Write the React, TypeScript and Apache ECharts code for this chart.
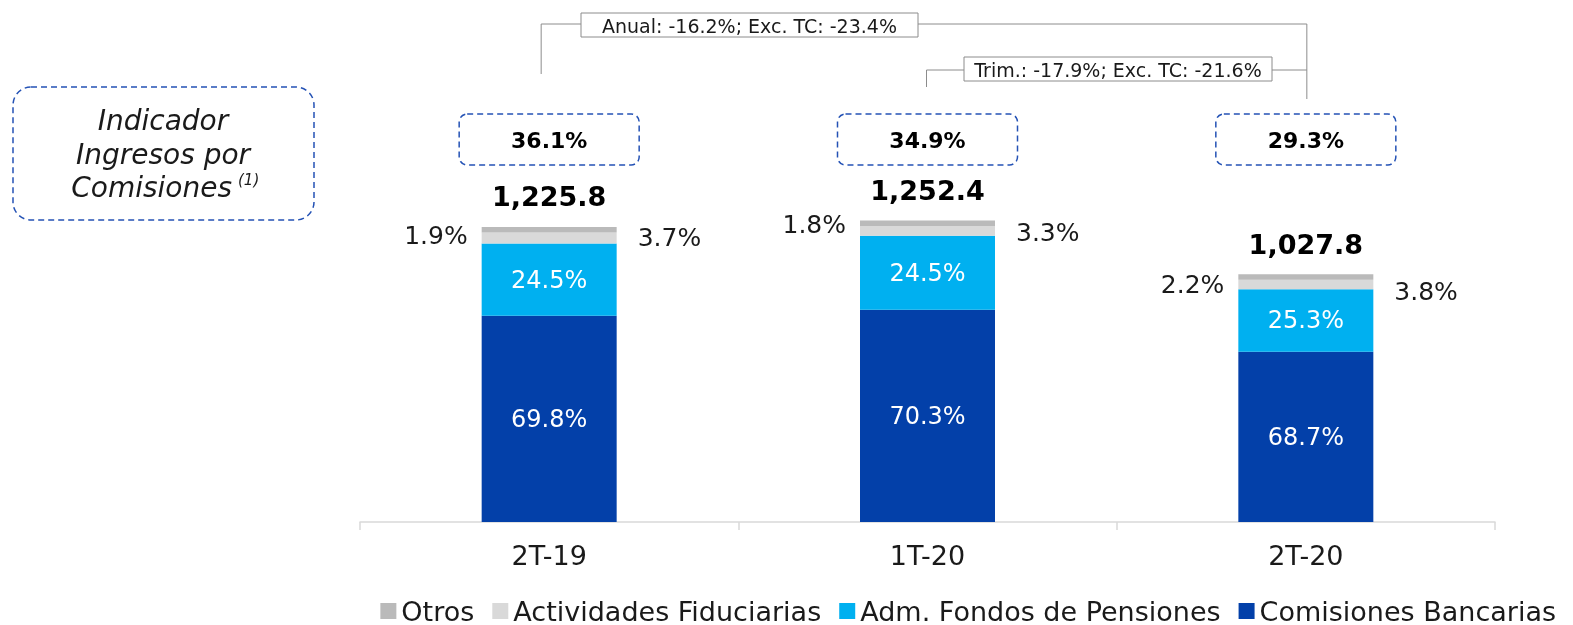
import React, { useEffect, useRef } from "react";
import * as echarts from "echarts";

const categories = ["2T-19", "1T-20", "2T-20"];
const totals = [1225.8, 1252.4, 1027.8];
const pctBancarias = [69.8, 70.3, 68.7];
const pctPensiones = [24.5, 24.5, 25.3];
const pctFiduciarias = [3.7, 3.3, 3.8];
const pctOtros = [1.9, 1.8, 2.2];
const indicador = ["36.1%", "34.9%", "29.3%"];
const anualText = "Anual: -16.2%; Exc. TC: -23.4%";
const trimText = "Trim.: -17.9%; Exc. TC: -21.6%";
const legendNames = ["Otros", "Actividades Fiduciarias", "Adm. Fondos de Pensiones", "Comisiones Bancarias"];

const FONT = "'DejaVu Sans', sans-serif";
const otrosOffsets = [[0, 6], [0, 1], [0, 7]];
const fidOffsets = [[0, 0], [0, 2], [0, 7]];

const seg = (pct: number[]) =>
  pct.map((p, i) => ({ value: +(totals[i] * p / 100).toFixed(2), pct: p }));
const fmtPct = (p: any) => p.data.pct.toFixed(1) + "%";

export default function App() {
  const ref = useRef<HTMLDivElement>(null);
  useEffect(() => {
    document.body.style.margin = "0";
    const chart = echarts.init(ref.current!, undefined, { renderer: "svg" });
    const option: any = {
      animation: false,
      textStyle: { fontFamily: FONT },
      grid: { left: 360, right: 78, top: 40, bottom: 103 },
      legend: {
        data: legendNames,
        right: 12,
        top: 592,
        icon: "rect",
        itemWidth: 16,
        itemHeight: 16,
        itemGap: 18,
        textStyle: { fontSize: 27, lineHeight: 28, color: "#1a1a1a", fontFamily: FONT },
      },
      xAxis: {
        type: "category",
        data: categories,
        axisLine: { lineStyle: { color: "#d9d9d9", width: 1.5 } },
        axisTick: { show: true, length: 8, lineStyle: { color: "#d9d9d9", width: 1.5 } },
        axisLabel: { fontSize: 27, color: "#1a1a1a", margin: 20, fontFamily: FONT },
      },
      yAxis: { type: "value", min: 0, max: 2000, show: false, splitLine: { show: false } },
      series: [
        {
          name: "Comisiones Bancarias",
          type: "bar",
          stack: "a",
          barWidth: 135,
          itemStyle: { color: "#0340a9" },
          data: seg(pctBancarias),
          label: { show: true, position: "inside", color: "#fff", fontSize: 24, formatter: fmtPct, fontFamily: FONT },
        },
        {
          name: "Adm. Fondos de Pensiones",
          type: "bar",
          stack: "a",
          itemStyle: { color: "#00b0f0" },
          data: seg(pctPensiones),
          label: { show: true, position: "inside", color: "#fff", fontSize: 24, formatter: fmtPct, fontFamily: FONT },
        },
        {
          name: "Actividades Fiduciarias",
          type: "bar",
          stack: "a",
          itemStyle: { color: "#d9d9d9" },
          data: seg(pctFiduciarias).map((d, i) => ({
            ...d,
            label: { offset: fidOffsets[i] },
          })),
          label: { show: true, position: "right", distance: 21, color: "#1a1a1a", fontSize: 25, formatter: fmtPct, fontFamily: FONT },
        },
        {
          name: "Otros",
          type: "bar",
          stack: "a",
          itemStyle: { color: "#bababa" },
          data: seg(pctOtros).map((d, i) => ({
            ...d,
            label: { offset: otrosOffsets[i] },
          })),
          label: { show: true, position: "left", distance: 14, color: "#1a1a1a", fontSize: 25, formatter: fmtPct, fontFamily: FONT },
        },
        {
          name: "Total",
          type: "scatter",
          symbolSize: 1,
          itemStyle: { color: "rgba(0,0,0,0)" },
          silent: true,
          data: totals,
          label: {
            show: true,
            position: "top",
            distance: 16,
            fontSize: 27,
            fontWeight: "bold",
            color: "#000000",
            opacity: 1,
            fontFamily: FONT,
            formatter: (p: any) =>
              p.value.toLocaleString("en-US", { minimumFractionDigits: 1, maximumFractionDigits: 1 }),
          },
        },
      ],
    };
    chart.setOption(option);

    const cx = categories.map((c) => chart.convertToPixel({ xAxisIndex: 0 }, c) as number);
    const line = "#8c8c8c";
    const blue = "#2452b5";
    const graphics: any[] = [
      {
        type: "rect",
        shape: { x: 13, y: 87, width: 301, height: 133, r: 18 },
        style: { fill: "none", stroke: blue, lineWidth: 1.5, lineDash: [6, 4] },
      },
      { type: "text", x: 163, y: 120, style: { text: "Indicador", font: `italic 28px ${FONT}`, fill: "#1a1a1a", align: "center", verticalAlign: "middle" } },
      { type: "text", x: 163, y: 154, style: { text: "Ingresos por", font: `italic 28px ${FONT}`, fill: "#1a1a1a", align: "center", verticalAlign: "middle" } },
      { type: "text", x: 232, y: 187, style: { text: "Comisiones", font: `italic 28px ${FONT}`, fill: "#1a1a1a", align: "right", verticalAlign: "middle" } },
      { type: "text", x: 238, y: 180, style: { text: "(1)", font: `italic 15px ${FONT}`, fill: "#1a1a1a", align: "left", verticalAlign: "middle" } },
      // annual bracket
      { type: "polyline", shape: { points: [[cx[0] - 8, 74], [cx[0] - 8, 24], [581, 24]] }, style: { stroke: line, lineWidth: 1, fill: "none" } },
      { type: "rect", shape: { x: 581, y: 13, width: 337, height: 24 }, style: { fill: "#fff", stroke: line, lineWidth: 1 } },
      { type: "text", x: 749.5, y: 25.5, style: { text: anualText, font: `19px ${FONT}`, fill: "#1a1a1a", align: "center", verticalAlign: "middle" } },
      { type: "polyline", shape: { points: [[918, 24], [cx[2] + 1, 24], [cx[2] + 1, 99]] }, style: { stroke: line, lineWidth: 1, fill: "none" } },
      // quarterly bracket
      { type: "polyline", shape: { points: [[cx[1] - 1, 87], [cx[1] - 1, 70], [964, 70]] }, style: { stroke: line, lineWidth: 1, fill: "none" } },
      { type: "rect", shape: { x: 964, y: 57, width: 308, height: 24 }, style: { fill: "#fff", stroke: line, lineWidth: 1 } },
      { type: "text", x: 1118, y: 69.5, style: { text: trimText, font: `19px ${FONT}`, fill: "#1a1a1a", align: "center", verticalAlign: "middle" } },
      { type: "polyline", shape: { points: [[1272, 70], [cx[2] + 1, 70]] }, style: { stroke: line, lineWidth: 1, fill: "none" } },
    ];
    cx.forEach((x, i) => {
      graphics.push({
        type: "rect",
        shape: { x: x - 90, y: 114, width: 180, height: 51, r: 8 },
        style: { fill: "none", stroke: blue, lineWidth: 1.5, lineDash: [6, 4] },
      });
      graphics.push({
        type: "text",
        x,
        y: 140,
        style: { text: indicador[i], font: `bold 22px ${FONT}`, fill: "#000", align: "center", verticalAlign: "middle" },
      });
    });
    chart.setOption({ graphic: graphics });

    return () => chart.dispose();
  }, []);
  return <div ref={ref} style={{ position: "fixed", left: 0, top: 0, width: 1573, height: 625 }} />;
}
